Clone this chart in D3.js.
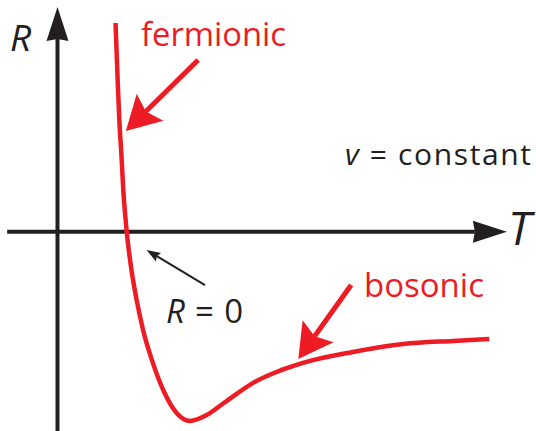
<!DOCTYPE html>
<html>
<head>
<meta charset="utf-8">
<script src="https://cdn.jsdelivr.net/npm/d3@7"></script>
<style>
  html, body { margin: 0; padding: 0; background: #fff; }
  svg { display: block; font-family: "Open Sans", "Noto Sans", sans-serif; }
</style>
</head>
<body>
<svg id="chart" width="536" height="431"></svg>
<script>
// Schematic R(T) at constant v: temperature T (arbitrary units) and R (arbitrary units)
const curveT = [1.35, 1.39, 1.45, 1.48, 1.53, 1.61, 1.72, 1.84, 1.99, 2.21, 2.49, 2.77, 3.08, 3.47, 3.86, 4.55, 5.71, 6.87, 8.04, 9.20, 10.04];
const curveR = [9.94, 7.70, 4.84, 3.89, 1.99, 0.00, -1.82, -3.25, -4.68, -6.20, -7.68, -8.63, -9.01, -8.73, -8.17, -7.20, -6.25, -5.73, -5.35, -5.20, -5.11];

// Axis extents (data units)
const axisT = [-1.17, 10.45];
const axisR = [-9.5, 10.7];

// Annotation arrows: [startT, startR] -> [tipT, tipR]
const arrowNames = ["fermionic", "bosonic", "zero"];
const arrowFrom = [[3.27, 8.18], [6.83, -2.54], [3.43, -2.54]];
const arrowTo = [[1.59, 4.79], [5.60, -6.06], [2.07, -0.87]];

// Labels
const labelText = ["fermionic", "bosonic", "constant"];

const red = "#ed1c24";
const ink = "#231f20";

const svg = d3.select("#chart");
const x = d3.scaleLinear().domain([0, 10]).range([57.5, 487.5]);
const y = d3.scaleLinear().domain([0, 10]).range([231.7, 21.7]);

// Arrow helper: line plus notched triangular head
function arrow(g, x0, y0, x1, y1, opts) {
  const dx = x1 - x0, dy = y1 - y0;
  const len = Math.hypot(dx, dy);
  const ux = dx / len, uy = dy / len;
  const nx = -uy, ny = ux;
  const L = opts.len, W = opts.half, N = opts.notch;
  const bx = x1 - L * ux, by = y1 - L * uy;
  const mx = x1 - (L - N) * ux, my = y1 - (L - N) * uy;
  g.append("line")
    .attr("x1", x0).attr("y1", y0)
    .attr("x2", mx).attr("y2", my)
    .attr("stroke", opts.color)
    .attr("stroke-width", opts.width);
  g.append("path")
    .attr("d", `M${x1},${y1}L${bx + W * nx},${by + W * ny}L${mx},${my}L${bx - W * nx},${by - W * ny}Z`)
    .attr("fill", opts.color);
}

// Axes
const axes = svg.append("g");
arrow(axes, x(0), y(axisR[0]), x(0), y(axisR[1]), {len: 34, half: 11, notch: 2, color: ink, width: 4});
arrow(axes, x(axisT[0]), y(0), x(axisT[1]), y(0), {len: 34, half: 11, notch: 2, color: ink, width: 4});

// Curve
const pts = curveT.map((t, i) => [t, curveR[i]]);
svg.append("path")
  .datum(pts)
  .attr("fill", "none")
  .attr("stroke", red)
  .attr("stroke-width", 4.5)
  .attr("stroke-linecap", "butt")
  .attr("d", d3.line().x(d => x(d[0])).y(d => y(d[1])).curve(d3.curveMonotoneX));

// Annotation arrows
const ann = svg.append("g");
arrowNames.forEach((name, i) => {
  const [t0, r0] = arrowFrom[i];
  const [t1, r1] = arrowTo[i];
  if (name === "zero") {
    arrow(ann, x(t0), y(r0), x(t1), y(r1), {len: 14, half: 5, notch: 2, color: ink, width: 2});
  } else {
    arrow(ann, x(t0), y(r0), x(t1), y(r1), {len: 34, half: 19, notch: 6, color: red, width: 5});
  }
});

// Axis labels
svg.append("text").attr("x", 10).attr("y", 51)
  .attr("font-size", 37).attr("font-style", "italic").attr("fill", ink).text("R");
svg.append("text").attr("x", 508).attr("y", 245)
  .attr("font-size", 46).attr("font-style", "italic").attr("fill", ink).text("T");

// Curve labels
svg.append("text").attr("x", 141).attr("y", 46)
  .attr("font-size", 33).attr("fill", red)
  .attr("textLength", 145).attr("lengthAdjust", "spacingAndGlyphs")
  .text(labelText[0]);
svg.append("text").attr("x", 364).attr("y", 297)
  .attr("font-size", 33).attr("fill", red)
  .attr("textLength", 120).attr("lengthAdjust", "spacingAndGlyphs")
  .text(labelText[1]);

// v = constant
const vc = svg.append("text").attr("x", 345).attr("y", 165)
  .attr("font-size", 30).attr("fill", ink)
  .attr("textLength", 186).attr("lengthAdjust", "spacing");
vc.append("tspan").attr("font-style", "italic").text("v");
vc.append("tspan").text(" = " + labelText[2]);

// R = 0
const r0 = svg.append("text").attr("x", 166).attr("y", 323)
  .attr("font-size", 33).attr("fill", ink)
  .attr("textLength", 77).attr("lengthAdjust", "spacing");
r0.append("tspan").attr("font-style", "italic").text("R");
r0.append("tspan").text(" = 0");
</script>
</body>
</html>
